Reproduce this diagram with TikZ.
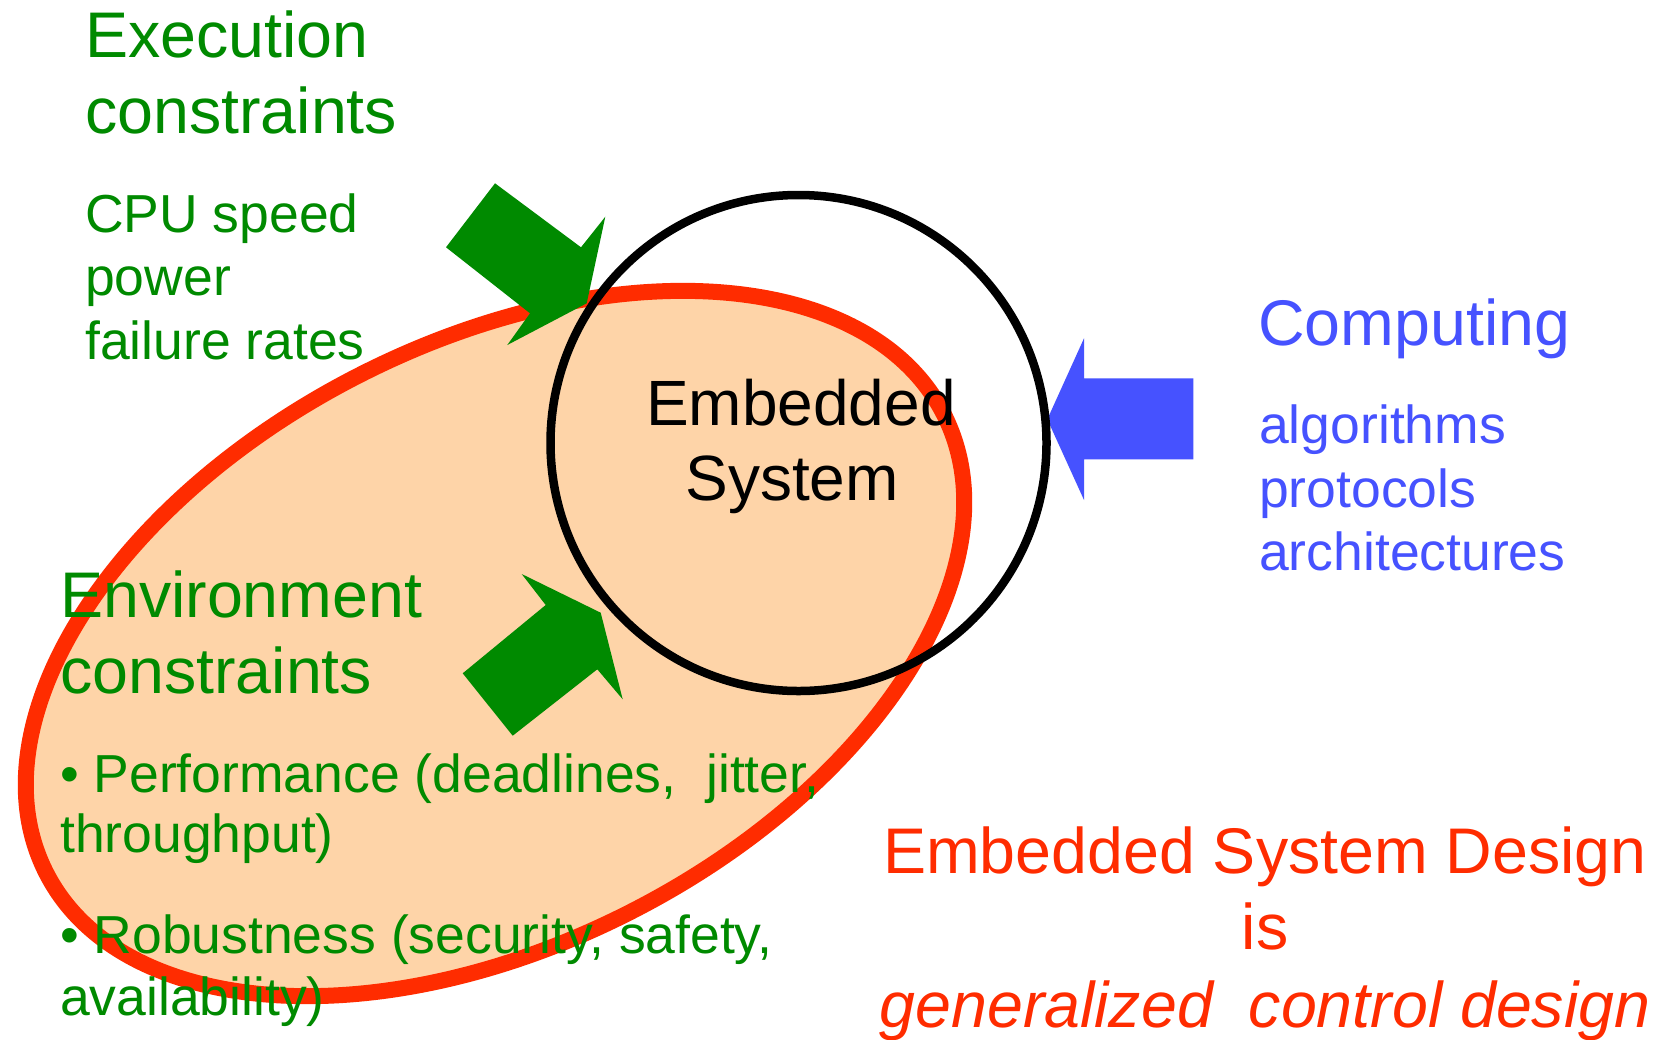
\documentclass[tikz,border=0pt]{standalone}
\usepackage{fontspec}
\setmainfont{Liberation Sans}
\definecolor{grn}{RGB}{0,138,0}
\definecolor{blu}{RGB}{70,82,255}
\definecolor{redc}{RGB}{255,44,0}
\definecolor{peach}{RGB}{254,212,168}
\begin{document}
\begin{tikzpicture}[x=1pt,y=-1pt,
  txt/.style={inner sep=0pt, anchor=base west},
  ctxt/.style={inner sep=0pt, anchor=base},
  big/.style={font=\fontsize{64.5}{76}\selectfont},
  mid/.style={font=\fontsize{53.5}{63}\selectfont},
  esys/.style={font=\fontsize{64}{75}\selectfont},
  greenarrow/.style={fill=grn, draw=none},
  bluearrow/.style={fill=blu, draw=none}]
\useasboundingbox (0,0) rectangle (1661,1039);
\fill[white] (0,0) rectangle (1661,1039);
% red ellipse
\draw[line width=16pt, draw=redc, fill=peach, rotate around={27.1:(495,643.5)}]
  (495,643.5) ellipse [x radius=504pt, y radius=300.7pt];
% green arrows
\fill[greenarrow] (446,247.3) -- (495,183.3) -- (581,247.3) -- (605.3,216.7)
  -- (586.7,303.3) -- (507.3,345) -- (530,313.3) -- cycle;
\fill[greenarrow] (462.7,673.3) -- (545.7,605) -- (521.7,574) -- (600.7,612.7)
  -- (622.7,699.3) -- (597.3,669.3) -- (512.7,735.7) -- cycle;
% blue arrow
\fill[bluearrow] (1047.3,419.3) -- (1084,338.3) -- (1084,378.3) -- (1193.3,378.3)
  -- (1193.3,459.3) -- (1084,459.3) -- (1084,500) -- cycle;
% black circle
\draw[line width=8.5pt, black] (798.5,443) circle [radius=248pt];
% texts
\node[txt,big,text=grn] (exec1) at (85,57) {Execution};
\node[txt,big,text=grn] (exec2) at (85,133) {constraints};
\node[txt,mid,text=grn] (cpu) at (85,232) {CPU speed};
\node[txt,mid,text=grn] (power) at (85,295) {power};
\node[txt,mid,text=grn] (fail) at (85,359) {failure rates};
\node[txt,big,text=grn] (env1) at (60,617) {Environment};
\node[txt,big,text=grn] (env2) at (60,693) {constraints};
\node[txt,mid,text=grn] (perf1) at (60,792) {• Performance (deadlines,\ \ jitter,};
\node[txt,mid,text=grn] (perf2) at (60,852) {throughput)};
\node[txt,mid,text=grn] (rob1) at (60,953) {• Robustness (security, safety,};
\node[txt,mid,text=grn] (rob2) at (60,1015) {availability)};
\node[txt,big,text=blu] (comp) at (1258,345) {Computing};
\node[txt,mid,text=blu] (alg) at (1259,443) {algorithms};
\node[txt,mid,text=blu] (prot) at (1259,507) {protocols};
\node[txt,mid,text=blu] (arch) at (1259,570) {architectures};
\node[ctxt,esys,text=black] (es1) at (801,425) {Embedded};
\node[ctxt,esys,text=black] (es2) at (792,500) {System};
\node[ctxt,big,text=redc] (d1) at (1265,873) {Embedded System Design};
\node[ctxt,big,text=redc] (d2) at (1265,949) {is};
\node[ctxt,big,text=redc] (d3) at (1265,1027) {\itshape generalized\ \ control design};
\end{tikzpicture}
\end{document}
